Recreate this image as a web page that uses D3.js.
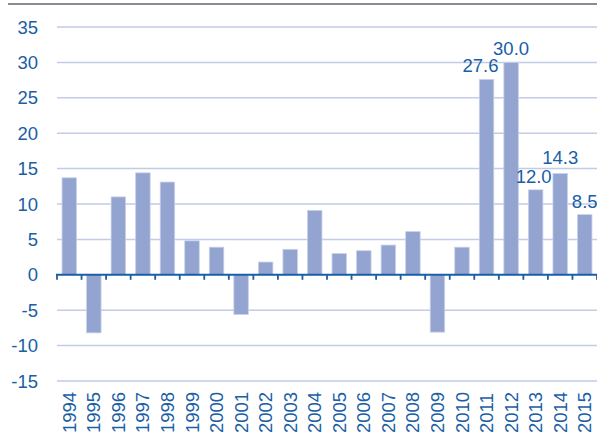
<!DOCTYPE html>
<html lang="en">
<head>
  <meta charset="UTF-8">
  <title>Annual change, 1994-2015</title>
  <script src="https://d3js.org/d3.v7.min.js"></script>
  <style>
    body { margin: 0; background: #fff; }
    svg { display: block; font-family: "Liberation Sans", Arial, sans-serif; }
  </style>
</head>
<body>
  <svg width="597" height="435"></svg>

  <script>
    const years = ["1994", "1995", "1996", "1997", "1998", "1999", "2000", "2001",
      "2002", "2003", "2004", "2005", "2006", "2007", "2008", "2009", "2010",
      "2011", "2012", "2013", "2014", "2015"];
    const values = [13.7, -8.2, 11.0, 14.4, 13.1, 4.8, 3.9, -5.6, 1.8, 3.6, 9.1,
      3.0, 3.4, 4.2, 6.1, -8.1, 3.9, 27.6, 30.0, 12.0, 14.3, 8.5];
    const labelled = ["2011", "2012", "2013", "2014", "2015"];
    const yTicks = [-15, -10, -5, 0, 5, 10, 15, 20, 25, 30, 35];

    const data = years.map((y, i) => ({ year: y, value: values[i] }));

    const svg = d3.select("svg");
    const blue = "#1a5ea6";
    const fs = "18.5px";

    const x = d3.scaleBand().domain(years).range([57, 597]).paddingInner(0.41).paddingOuter(0.205);
    const y = d3.scaleLinear().domain([-15, 35]).range([381, 27]);

    // top rule (cut-off frame above the chart)
    svg.append("rect").attr("x", 8).attr("y", 3).attr("width", 589).attr("height", 2).attr("fill", "#8a8d93");

    // gridlines
    svg.append("g").selectAll("line")
      .data(yTicks.filter(d => d !== 0))
      .enter().append("line")
      .attr("x1", 57).attr("x2", 597)
      .attr("y1", d => y(d)).attr("y2", d => y(d))
      .attr("stroke", "#c3cbe5").attr("stroke-width", 1.5);

    // y labels
    svg.append("g").selectAll("text")
      .data(yTicks)
      .enter().append("text")
      .attr("x", 38).attr("y", d => y(d) + 6.5)
      .attr("text-anchor", "end")
      .attr("font-size", fs)
      .attr("fill", blue)
      .text(d => d);

    // bars
    svg.append("g").selectAll("rect")
      .data(data)
      .enter().append("rect")
      .attr("x", d => x(d.year))
      .attr("width", x.bandwidth())
      .attr("y", d => y(Math.max(0, d.value)))
      .attr("height", d => Math.abs(y(d.value) - y(0)))
      .attr("fill", "#94a4d0")
      .attr("stroke", "#c9d1ea").attr("stroke-width", 0.8);

    // zero axis with ticks between categories
    const step = x.step();
    const axisG = svg.append("g");
    axisG.append("line")
      .attr("x1", 56).attr("x2", 597)
      .attr("y1", y(0)).attr("y2", y(0))
      .attr("stroke", blue).attr("stroke-width", 2);
    axisG.selectAll("line.tick")
      .data(d3.range(years.length + 1))
      .enter().append("line").attr("class", "tick")
      .attr("x1", i => 57 + i * step).attr("x2", i => 57 + i * step)
      .attr("y1", y(0)).attr("y2", y(0) + 5)
      .attr("stroke", blue).attr("stroke-width", 1.8);

    // year labels (rotated)
    svg.append("g").selectAll("text")
      .data(years)
      .enter().append("text")
      .attr("transform", d => `translate(${x(d) + x.bandwidth() / 2 + 6.5},433) rotate(-90)`)
      .attr("font-size", fs)
      .attr("fill", blue)
      .text(d => d);

    // value labels
    svg.append("g").selectAll("text")
      .data(data.filter(d => labelled.includes(d.year)))
      .enter().append("text")
      .attr("x", d => x(d.year) + x.bandwidth() / 2 + (d.year === "2011" ? -6 : d.year === "2013" ? -2 : 0))
      .attr("y", d => y(d.value) - (d.year === "2014" ? 10 : 7))
      .attr("text-anchor", "middle")
      .attr("font-size", fs)
      .attr("fill", blue)
      .text(d => d.value.toFixed(1));
  </script>
</body>
</html>
